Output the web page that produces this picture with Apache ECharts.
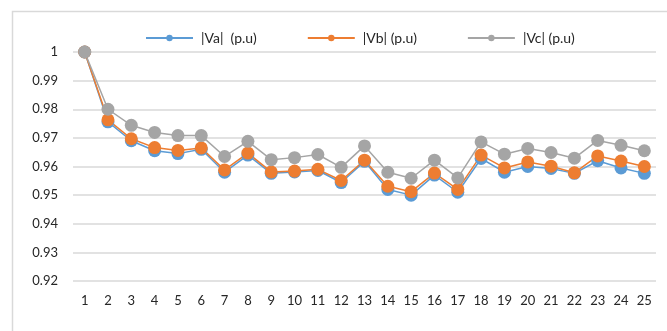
<!DOCTYPE html>
<html>
<head>
<meta charset="utf-8">
<script src="https://cdn.jsdelivr.net/npm/echarts@6/dist/echarts.min.js"></script>
<style>
  html, body { margin: 0; padding: 0; background: #fff; }
  #main { width: 667px; height: 331px; }
</style>
</head>
<body>
<div id="main"></div>
<script>
// bus numbers 1..25
const buses = ['1','2','3','4','5','6','7','8','9','10','11','12','13','14','15','16','17','18','19','20','21','22','23','24','25'];

const va = [1.0, 0.9756, 0.969, 0.9655, 0.9645, 0.966, 0.958, 0.964, 0.9576, 0.9581, 0.9586, 0.9544, 0.9618,
  0.952, 0.950, 0.957, 0.951, 0.9628, 0.958, 0.960, 0.9593, 0.9576, 0.962, 0.9595, 0.9576];
const vb = [1.0, 0.9763, 0.9697, 0.9666, 0.9656, 0.9665, 0.9588, 0.9647, 0.9581, 0.9584, 0.959, 0.9551, 0.9622,
  0.9531, 0.9512, 0.9577, 0.952, 0.964, 0.9595, 0.9616, 0.9601, 0.9578, 0.9637, 0.9619, 0.960];
const vc = [1.0, 0.98, 0.9744, 0.9719, 0.9708, 0.9708, 0.9635, 0.9688, 0.9624, 0.9631, 0.9642, 0.9597, 0.9672,
  0.958, 0.9559, 0.9622, 0.956, 0.9686, 0.9643, 0.9663, 0.9649, 0.9629, 0.9691, 0.9674, 0.9655];

const names = ['|Va|  (p.u)', '|Vb| (p.u)', '|Vc| (p.u)'];
const colors = ['#5b9bd5', '#ed7d31', '#a5a5a5'];

const chart = echarts.init(document.getElementById('main'));

function mkSeries(name, data, color) {
  return {
    name: name,
    type: 'line',
    data: data,
    symbol: 'circle',
    symbolSize: 13,
    itemStyle: { color: color },
    lineStyle: { color: color, width: 1.5 },
    animation: false
  };
}

chart.setOption({
  animation: false,
  color: colors,
  textStyle: { fontFamily: 'Lato', color: '#262626' },
  graphic: [{
    type: 'rect',
    shape: { x: 12.5, y: 11.5, width: 700, height: 400 },
    style: { fill: 'none', stroke: '#d9d9d9', lineWidth: 1.5 },
    silent: true
  }],
  legend: {
    top: 26,
    left: 140,
    itemWidth: 47,
    itemHeight: 8,
    itemGap: 50,
    data: names,
    textStyle: { fontFamily: 'Lato', fontSize: 14, color: '#262626', width: 60, padding: [0, 0, 0, 3] }
  },
  grid: { left: 73, right: 11, top: 52, bottom: 50, containLabel: false },
  xAxis: {
    type: 'category',
    data: buses,
    boundaryGap: true,
    axisLine: { show: false },
    axisTick: { show: false },
    axisLabel: { fontFamily: 'Lato', fontSize: 13, color: '#262626', margin: 13 }
  },
  yAxis: {
    type: 'value',
    min: 0.92,
    max: 1,
    interval: 0.01,
    axisLine: { show: false },
    axisTick: { show: false },
    splitLine: { lineStyle: { color: '#d9d9d9', width: 1.5 } },
    axisLabel: {
      fontFamily: 'Lato', fontSize: 13, color: '#262626', margin: 15,
      formatter: function (v) {
        const r = Math.round(v * 100) / 100;
        return r === 1 ? '1' : r.toFixed(2);
      }
    }
  },
  series: [
    mkSeries(names[0], va, colors[0]),
    mkSeries(names[1], vb, colors[1]),
    mkSeries(names[2], vc, colors[2])
  ]
});
</script>
</body>
</html>
